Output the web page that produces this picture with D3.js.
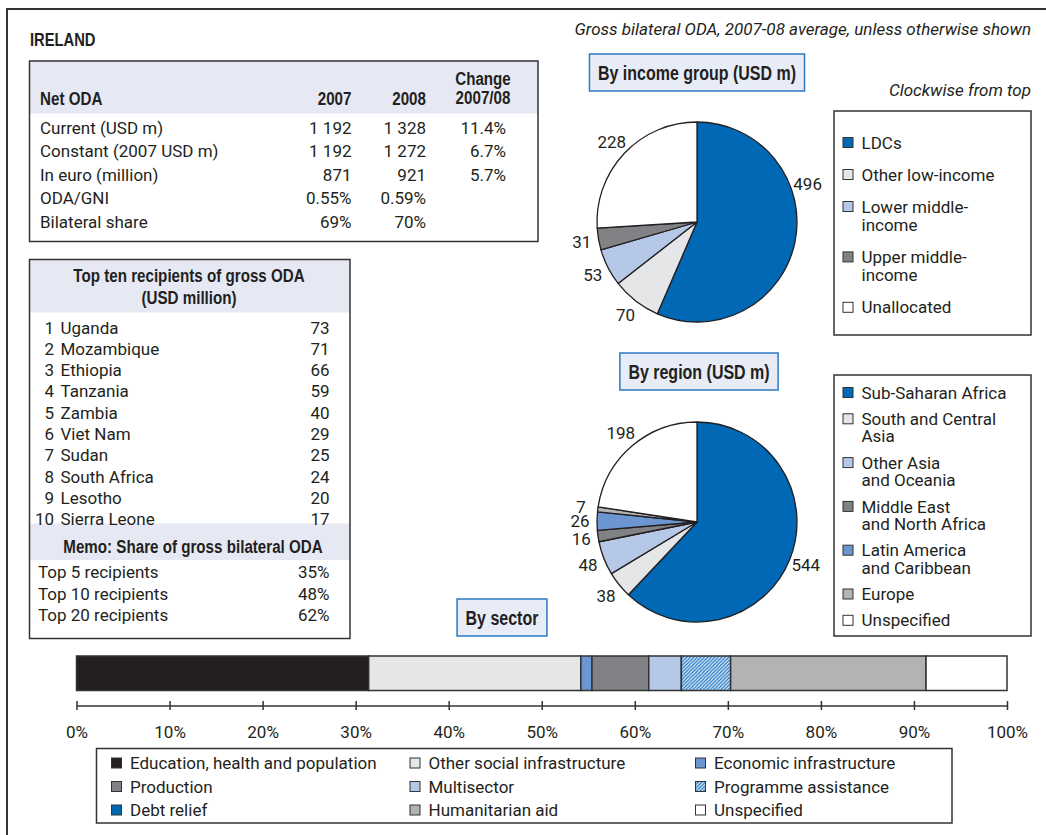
<!DOCTYPE html>
<html>
<head>
<meta charset="utf-8">
<script src="https://cdn.jsdelivr.net/npm/d3@7"></script>
<style>
  html, body { margin: 0; padding: 0; background: #fff; }
  svg { display: block; }
</style>
</head>
<body>
<div id="viz"></div>
<script>
// --- data ---
const netOdaRows = ["Current (USD m)", "Constant (2007 USD m)", "In euro (million)", "ODA/GNI", "Bilateral share"];
const netOda2007 = ["1 192", "1 192", "871", "0.55%", "69%"];
const netOda2008 = ["1 328", "1 272", "921", "0.59%", "70%"];
const netOdaChange = ["11.4%", "6.7%", "5.7%", "", ""];

const topRecipients = ["Uganda", "Mozambique", "Ethiopia", "Tanzania", "Zambia", "Viet Nam", "Sudan", "South Africa", "Lesotho", "Sierra Leone"];
const topValues = [73, 71, 66, 59, 40, 29, 25, 24, 20, 17];
const memoLabels = ["Top 5 recipients", "Top 10 recipients", "Top 20 recipients"];
const memoShares = ["35%", "48%", "62%"];

const incomeGroups = ["LDCs", "Other low-income", "Lower middle-\nincome", "Upper middle-\nincome", "Unallocated"];
const incomeValues = [496, 70, 53, 31, 228];

const regions = ["Sub-Saharan Africa", "South and Central\nAsia", "Other Asia\nand Oceania", "Middle East\nand North Africa", "Latin America\nand Caribbean", "Europe", "Unspecified"];
const regionValues = [544, 38, 48, 16, 26, 7, 198];

const sectors = ["Education, health and population", "Other social infrastructure", "Economic infrastructure",
  "Production", "Multisector", "Programme assistance", "Debt relief", "Humanitarian aid", "Unspecified"];
const sectorShares = [31.4, 22.8, 1.2, 6.1, 3.5, 5.3, 0, 21.0, 8.7];
const sectorTicks = [0, 10, 20, 30, 40, 50, 60, 70, 80, 90, 100];

// --- styles ---
const W = 1046, H = 835;
const INK = "#231f20";
const FONT = "Roboto, 'Liberation Sans', sans-serif";
const BOLD = "'Liberation Sans', Arial, sans-serif"; // squeezed horizontally to look like a narrow bold
const NARROW = 0.82;
const FS = 17;
const BAND = "#e6e9f4";
const C = {
  blue: "#0068b4", lgrey: "#e5e6e8", lblue: "#b5c8e8", dgrey: "#808285",
  mblue: "#6b96d0", grey: "#b2b3b5", white: "#ffffff", black: "#231f20"
};
const incomeColors = [C.blue, C.lgrey, C.lblue, C.dgrey, C.white];
const regionColors = [C.blue, C.lgrey, C.lblue, C.dgrey, C.mblue, C.grey, C.white];
const sectorColors = [C.black, C.lgrey, C.mblue, C.dgrey, C.lblue, "url(#hatch)", C.blue, C.grey, C.white];

const svg = d3.select("#viz").append("svg").attr("width", W).attr("height", H)
  .attr("font-family", FONT).attr("font-size", FS).attr("fill", INK);

const defs = svg.append("defs");
const hatch = defs.append("pattern").attr("id", "hatch").attr("patternUnits", "userSpaceOnUse")
  .attr("width", 3.5).attr("height", 3.5);
hatch.append("rect").attr("width", 3.5).attr("height", 3.5).attr("fill", "#fff");
hatch.append("path").attr("d", "M-1,1 l2,-2 M0,3.5 l3.5,-3.5 M2.5,4.5 l2,-2")
  .attr("stroke", "#2f7fc8").attr("stroke-width", 1.4);

// baseline offset so that y means the visual middle of a line
const mid = (fs) => fs * 0.36;

function txt(g, x, y, s, opts = {}) {
  const fs = opts.size || FS;
  if (opts.bold) {
    return g.append("text")
      .attr("transform", `translate(${x},${y + mid(fs)}) scale(${NARROW},1)`)
      .attr("text-anchor", opts.anchor || "start")
      .attr("font-family", BOLD).attr("font-weight", "bold").attr("font-size", fs)
      .text(s);
  }
  return g.append("text").attr("x", x).attr("y", y + mid(fs))
    .attr("text-anchor", opts.anchor || "start")
    .attr("font-style", opts.italic ? "italic" : null)
    .attr("font-size", fs)
    .text(s);
}

// outer frame (open to the right and bottom)
svg.append("path").attr("d", `M7,${H + 5} V9 H${W + 5}`)
  .attr("fill", "none").attr("stroke", "#333").attr("stroke-width", 2);

txt(svg, 30, 40, "IRELAND", { bold: true, size: 18 });
txt(svg, 1031, 29, "Gross bilateral ODA, 2007-08 average, unless otherwise shown", { anchor: "end", italic: true });

// --- Net ODA table ---
const t1 = svg.append("g");
t1.append("rect").attr("x", 29.5).attr("y", 61).attr("width", 508.5).attr("height", 52.5).attr("fill", BAND);
t1.append("rect").attr("x", 29.5).attr("y", 61).attr("width", 508.5).attr("height", 180.5)
  .attr("fill", "none").attr("stroke", "#333").attr("stroke-width", 1.5);
txt(t1, 40, 98, "Net ODA", { bold: true, size: 18.5 });
txt(t1, 351.5, 98, "2007", { bold: true, size: 18.5, anchor: "end" });
txt(t1, 426, 98, "2008", { bold: true, size: 18.5, anchor: "end" });
txt(t1, 483, 78, "Change", { bold: true, size: 18.5, anchor: "middle" });
txt(t1, 483, 97, "2007/08", { bold: true, size: 18.5, anchor: "middle" });
const rowY = d3.scalePoint().domain(d3.range(netOdaRows.length)).range([128, 221.5]);
netOdaRows.forEach((r, i) => {
  txt(t1, 40, rowY(i), r);
  txt(t1, 351.5, rowY(i), netOda2007[i], { anchor: "end" });
  txt(t1, 426, rowY(i), netOda2008[i], { anchor: "end" });
  txt(t1, 506, rowY(i), netOdaChange[i], { anchor: "end" });
});

// --- Top ten table ---
const t2 = svg.append("g");
t2.append("rect").attr("x", 29.5).attr("y", 259.5).attr("width", 320.5).attr("height", 53).attr("fill", BAND);
t2.append("rect").attr("x", 29.5).attr("y", 523.5).attr("width", 320.5).attr("height", 36.5).attr("fill", BAND);
t2.append("rect").attr("x", 29.5).attr("y", 259.5).attr("width", 320.5).attr("height", 379)
  .attr("fill", "none").attr("stroke", "#333").attr("stroke-width", 1.5);
txt(t2, 189, 275, "Top ten recipients of gross ODA", { bold: true, size: 18.5, anchor: "middle" });
txt(t2, 189, 297, "(USD million)", { bold: true, size: 18.5, anchor: "middle" });
const recY = d3.scalePoint().domain(d3.range(topRecipients.length)).range([327.5, 519]);
topRecipients.forEach((r, i) => {
  txt(t2, 54, recY(i), String(i + 1), { anchor: "end" });
  txt(t2, 60.5, recY(i), r);
  txt(t2, 329.5, recY(i), String(topValues[i]), { anchor: "end" });
});
txt(t2, 193, 546, "Memo: Share of gross bilateral ODA", { bold: true, size: 18.5, anchor: "middle" });
const memoY = d3.scalePoint().domain(d3.range(memoLabels.length)).range([572, 615]);
memoLabels.forEach((m, i) => {
  txt(t2, 38, memoY(i), m);
  txt(t2, 329.5, memoY(i), memoShares[i], { anchor: "end" });
});

// --- titled boxes ---
function titleBox(cx, cy, s) {
  const g = svg.append("g");
  const rect = g.append("rect");
  const t = txt(g, cx, cy, s, { bold: true, size: 19.5, anchor: "middle" });
  const w = t.node().getComputedTextLength() * NARROW + 17;
  rect.attr("x", cx - w / 2).attr("y", cy - 18.5).attr("width", w).attr("height", 37)
    .attr("fill", "#e8ecf7").attr("stroke", "#2b7bc4").attr("stroke-width", 1.5);
}
titleBox(697, 72.5, "By income group (USD m)");
titleBox(699, 371.5, "By region (USD m)");
titleBox(502, 617.5, "By sector");
txt(svg, 1031, 90, "Clockwise from top", { anchor: "end", italic: true });

// --- pies ---
function drawPie(cx, cy, values, colors, labelAngles) {
  const r = 100, lr = 117;
  const g = svg.append("g").attr("transform", `translate(${cx},${cy})`);
  const arcs = d3.pie().sort(null).value((d) => d)(values);
  const arc = d3.arc().innerRadius(0).outerRadius(r);
  g.selectAll("path").data(arcs).join("path")
    .attr("d", arc).attr("fill", (d, i) => colors[i])
    .attr("stroke", INK).attr("stroke-width", 1.3).attr("stroke-linejoin", "round");
  arcs.forEach((d, i) => {
    const a = labelAngles[i] != null ? labelAngles[i] : (d.startAngle + d.endAngle) / 2;
    txt(g, lr * Math.sin(a), -lr * Math.cos(a), String(d.data), { anchor: "middle" });
  });
}
drawPie(697, 222, incomeValues, incomeColors, { 0: 71 * Math.PI / 180 });
drawPie(697, 522, regionValues, regionColors, {});

// --- pie legends ---
function pieLegend(x, y, w, h, names, colors, top, gap, lh) {
  const g = svg.append("g");
  g.append("rect").attr("x", x).attr("y", y).attr("width", w).attr("height", h)
    .attr("fill", "#fff").attr("stroke", "#333").attr("stroke-width", 1.5);
  let cy = top;
  names.forEach((n, i) => {
    const lines = n.split("\n");
    g.append("rect").attr("x", x + 9).attr("y", cy - 5).attr("width", 10).attr("height", 10)
      .attr("fill", colors[i]).attr("stroke", "#333").attr("stroke-width", 1);
    lines.forEach((l, j) => txt(g, x + 27.5, cy + j * lh, l));
    cy += gap + (lines.length - 1) * lh;
  });
}
pieLegend(834, 111, 197, 224, incomeGroups, incomeColors, 142.5, 32, 18.4);
pieLegend(834, 375, 197, 261, regions, regionColors, 392.5, 26.3, 17.5);

// --- sector bar ---
const x = d3.scaleLinear().domain([0, 100]).range([76.5, 1007]);
const stack = [];
sectorShares.reduce((acc, v, i) => { stack.push({ i, x0: acc, x1: acc + v }); return acc + v; }, 0);
svg.append("g").selectAll("rect").data(stack.filter((d) => d.x1 > d.x0)).join("rect")
  .attr("x", (d) => x(d.x0)).attr("y", 656).attr("width", (d) => x(d.x1) - x(d.x0)).attr("height", 34.5)
  .attr("fill", (d) => sectorColors[d.i]).attr("stroke", "#333").attr("stroke-width", 1.5);

const axis = d3.axisBottom(x).tickValues(sectorTicks).tickFormat((d) => d + "%")
  .tickSizeOuter(0).tickSizeInner(4.5).tickPadding(16);
const ax = svg.append("g").attr("transform", "translate(0,705.5)").call(axis);
ax.select(".domain").attr("stroke", "#333").attr("stroke-width", 1.5);
ax.selectAll(".tick line").attr("y1", -4.5).attr("stroke", "#333").attr("stroke-width", 1.5);
ax.selectAll(".tick text").attr("font-family", FONT).attr("font-size", FS).attr("fill", INK);

// --- sector legend ---
const lg = svg.append("g");
lg.append("rect").attr("x", 96.5).attr("y", 748.5).attr("width", 855.5).attr("height", 74.5)
  .attr("fill", "#fff").attr("stroke", "#333").attr("stroke-width", 1.5);
const legCols = [111.5, 410, 695.5];
const legRows = [763, 786.5, 810];
sectors.forEach((s, i) => {
  const cx = legCols[i % 3], cy = legRows[Math.floor(i / 3)];
  lg.append("rect").attr("x", cx).attr("y", cy - 5).attr("width", 10).attr("height", 10)
    .attr("fill", sectorColors[i]).attr("stroke", "#333").attr("stroke-width", 1);
  txt(lg, cx + 18.5, cy, s);
});
</script>
</body>
</html>
